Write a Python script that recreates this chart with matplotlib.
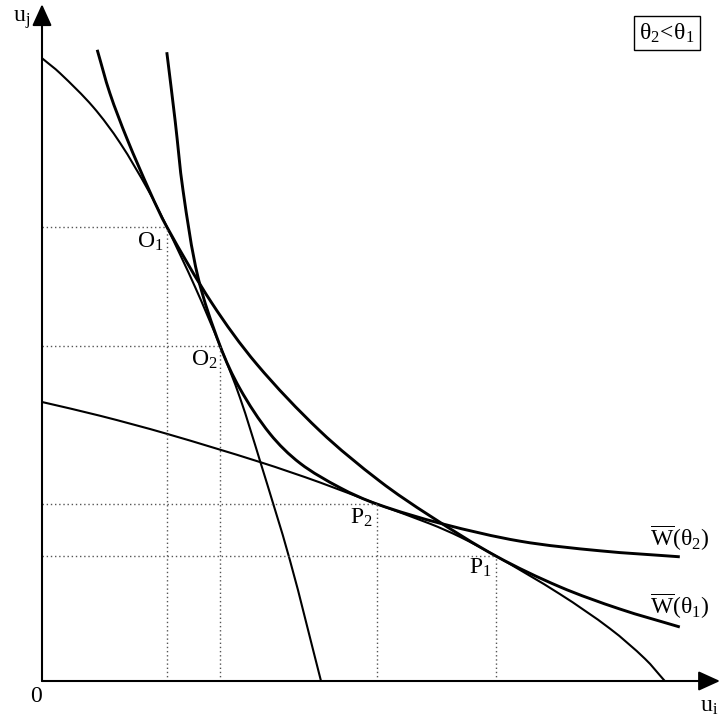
import numpy as np
import matplotlib
matplotlib.use('Agg')
import matplotlib.pyplot as plt
from matplotlib.path import Path
from matplotlib.patches import PathPatch

# utility frontiers (thin)
f1_ui = [0.00, 0.30, 0.85, 1.30, 1.77, 2.08, 2.55, 2.97, 3.30, 3.63, 4.13, 4.65]
f1_uj = [10.38, 10.13, 9.57, 8.97, 8.18, 7.57, 6.57, 5.58, 4.72, 3.68, 2.02, 0.00]
f2_ui = [0.00, 0.97, 2.08, 3.63, 4.63, 5.58, 6.47, 6.97, 7.57, 8.63, 9.47, 10.05, 10.38]
f2_uj = [4.65, 4.42, 4.12, 3.65, 3.31, 2.95, 2.62, 2.40, 2.08, 1.45, 0.87, 0.37, 0.00]

# welfare curves (thick)
w1_ui = [0.92, 1.13, 1.42, 1.80, 2.08, 2.83, 3.58, 4.63, 5.63, 6.47, 7.57, 8.63, 9.63, 10.63]
w1_uj = [10.52, 9.80, 9.03, 8.15, 7.57, 6.30, 5.28, 4.17, 3.33, 2.75, 2.08, 1.57, 1.20, 0.90]
w2_ui = [2.08, 2.22, 2.35, 2.60, 2.97, 3.30, 3.80, 4.30, 4.97, 5.58, 6.67, 7.97, 9.30, 10.63]
w2_uj = [10.48, 9.33, 8.18, 6.73, 5.58, 4.87, 4.12, 3.63, 3.22, 2.95, 2.62, 2.33, 2.17, 2.07]

# tangency points
pt_names = ['O_1', 'O_2', 'P_2', 'P_1']
pt_ui = [2.08, 2.97, 5.58, 7.57]
pt_uj = [7.57, 5.58, 2.95, 2.08]

plt.rcParams['font.family'] = ['Liberation Serif', 'DejaVu Serif']
plt.rcParams['mathtext.fontset'] = 'custom'
plt.rcParams['mathtext.rm'] = 'Liberation Serif'
plt.rcParams['mathtext.it'] = 'Liberation Serif:italic'
plt.rcParams['mathtext.bf'] = 'Liberation Serif:bold'


def smooth_path(xs, ys):
    # cubic hermite through the read points (chord-length tangents), as bezier pieces
    pts = np.column_stack([xs, ys]).astype(float)
    n = len(pts)
    t = np.concatenate([[0], np.cumsum(np.hypot(*np.diff(pts, axis=0).T))])
    m = np.zeros_like(pts)
    m[0] = (pts[1] - pts[0]) / (t[1] - t[0])
    m[-1] = (pts[-1] - pts[-2]) / (t[-1] - t[-2])
    for k in range(1, n - 1):
        m[k] = (pts[k + 1] - pts[k - 1]) / (t[k + 1] - t[k - 1])
    verts = [pts[0]]
    codes = [Path.MOVETO]
    for k in range(n - 1):
        h = t[k + 1] - t[k]
        verts += [pts[k] + m[k] * h / 3, pts[k + 1] - m[k + 1] * h / 3, pts[k + 1]]
        codes += [Path.CURVE4] * 3
    return Path(verts, codes)


fig = plt.figure(figsize=(7.21, 7.16), dpi=100)
ax = fig.add_axes([0, 0, 1, 1])
ax.set_xlim(-0.7, 11.3167)
ax.set_ylim(-0.5833, 11.35)
ax.axis('off')

# axes with arrows
arrow = dict(arrowstyle='-|>,head_length=0.55,head_width=0.25', mutation_scale=24,
             lw=1.5, color='black', shrinkA=0, shrinkB=0)
ax.annotate('', xy=(11.3, 0), xytext=(0, 0), arrowprops=arrow)
ax.annotate('', xy=(0, 11.28), xytext=(0, 0), arrowprops=arrow)

# dotted guides
for x, y in zip(pt_ui, pt_uj):
    ax.plot([0, x], [y, y], ls=(0, (1, 2)), color='#555555', lw=1)
    ax.plot([x, x], [0, y], ls=(0, (1, 2)), color='#555555', lw=1)

for xs, ys in [(f1_ui, f1_uj), (f2_ui, f2_uj)]:
    ax.add_patch(PathPatch(smooth_path(xs, ys), fill=False, lw=1.5, color='black'))
for xs, ys in [(w1_ui, w1_uj), (w2_ui, w2_uj)]:
    ax.add_patch(PathPatch(smooth_path(xs, ys), fill=False, lw=2.1, color='black'))

fs = 17
offsets = [(-0.06, -0.25), (-0.04, -0.23), (-0.06, -0.23), (-0.07, -0.20)]
for name, x, y, (dx, dy) in zip(pt_names, pt_ui, pt_uj, offsets):
    ax.text(x + dx, y + dy, r'$\mathrm{%s}$' % name, ha='right', va='center', fontsize=fs)

ax.text(10.13, 2.38, r'$\overline{\mathrm{W}}\mathrm{(θ_2)}$', ha='left', va='center', fontsize=fs)
ax.text(10.13, 1.25, r'$\overline{\mathrm{W}}\mathrm{(θ_1)}$', ha='left', va='center', fontsize=fs)

ax.text(-0.2, 11.02, r'$\mathrm{u_j}$', ha='right', va='center', fontsize=fs)
ax.text(10.97, -0.43, r'$\mathrm{u_i}$', ha='left', va='center', fontsize=fs)
ax.text(-0.1, -0.25, '0', ha='center', va='center', fontsize=fs)

ax.text(10.42, 10.8, r'$\mathrm{θ_2\!<\!θ_1}$', ha='center', va='center', fontsize=fs,
        bbox=dict(boxstyle='square,pad=0.22', fc='white', ec='black', lw=1))

fig.savefig('out.png', dpi=100)
